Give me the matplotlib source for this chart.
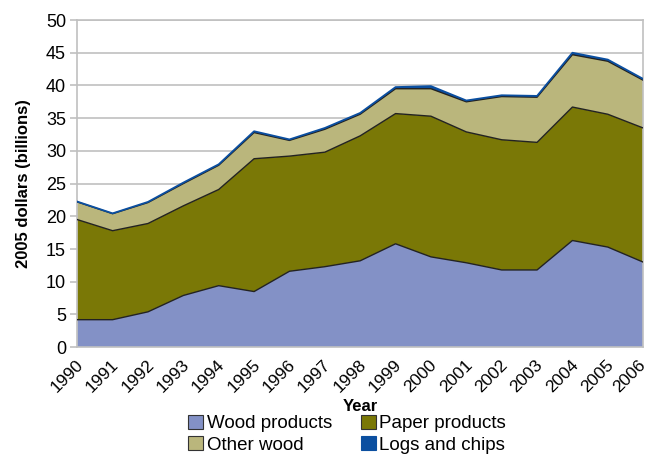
import matplotlib
matplotlib.use('Agg')
from matplotlib import pyplot as plt
from matplotlib.ticker import FixedLocator
from matplotlib.patches import Patch
from matplotlib.transforms import ScaledTranslation

years = list(range(1990, 2007))
wood = [4.2, 4.2, 5.4, 7.9, 9.4, 8.5, 11.6, 12.3, 13.2, 15.8, 13.8, 12.9, 11.8, 11.8, 16.3, 15.3, 13.0]
paper = [15.3, 13.6, 13.5, 13.7, 14.7, 20.3, 17.6, 17.5, 19.1, 19.9, 21.5, 20.0, 19.9, 19.5, 20.4, 20.3, 20.5]
other = [2.7, 2.6, 3.2, 3.4, 3.7, 4.0, 2.4, 3.5, 3.3, 3.8, 4.2, 4.6, 6.6, 6.9, 8.0, 8.1, 7.3]
logs = [0.05, 0.05, 0.1, 0.15, 0.15, 0.2, 0.15, 0.2, 0.2, 0.25, 0.4, 0.2, 0.2, 0.2, 0.3, 0.25, 0.2]

names = ['Wood products', 'Paper products', 'Other wood', 'Logs and chips']
colors = ['#8391c6', '#7a7806', '#bab67c', '#0b4fa0']

plt.rcParams['font.family'] = ['Liberation Sans', 'DejaVu Sans']

fig = plt.figure(figsize=(6.49, 4.55), dpi=100)
ax = fig.add_axes([0.119, 0.237, 0.872, 0.719])

# stacked areas, each with a dark outline on its top edge
base = [0] * len(years)
for vals, col, name in zip([wood, paper, other, logs], colors, names):
    top = [b + v for b, v in zip(base, vals)]
    ax.fill_between(years, base, top, facecolor=col, edgecolor='none', zorder=2)
    if name == 'Logs and chips':
        ax.plot(years, top, color=col, lw=1.3, zorder=3)
    else:
        ax.plot(years, top, color='#222222', lw=1.0, zorder=3)
    base = top

ax.set_xlim(1990, 2006)
ax.set_ylim(0, 50)
ax.set_yticks(range(0, 51, 5))
ax.yaxis.grid(True, color='#c0c0c0', lw=1.2, zorder=0)
ax.set_axisbelow(True)
for s in ax.spines.values():
    s.set_color('#c0c0c0')
    s.set_linewidth(1.2)

ax.set_xticks(years)
ax.set_xticklabels([str(y) for y in years], rotation=45, ha='right', va='center',
                   rotation_mode='anchor', fontsize=12.5)
ax.tick_params(axis='x', which='major', length=0, pad=11)
# nudge the rotated year labels a little to the right, as in the original
# (the last one stays put so it doesn't run off the edge)
shift = ScaledTranslation(2.5 / 72, 0, fig.dpi_scale_trans)
for lab in ax.get_xticklabels()[:-1]:
    lab.set_transform(lab.get_transform() + shift)
ax.xaxis.set_minor_locator(FixedLocator([1990, 1995, 2000, 2005]))
ax.tick_params(axis='x', which='minor', length=5, color='#c0c0c0', width=1.2)
ax.tick_params(axis='y', length=5, color='#c0c0c0', width=1.2, labelsize=13, pad=3)

ax.set_xlabel('Year', fontsize=12, fontweight='bold', labelpad=3)
ax.set_ylabel('2005 dollars (billions)', fontsize=12, fontweight='bold', labelpad=11)

# legend rows: Wood/Paper on top, Other/Logs below (matplotlib fills by column)
order = [0, 2, 1, 3]
handles = [Patch(facecolor=colors[i], lw=0.8,
                 edgecolor=colors[i] if names[i] == 'Logs and chips' else '#333333')
           for i in order]
fig.legend(handles, [names[i] for i in order], ncol=2, loc='lower center',
           bbox_to_anchor=(0.535, -0.026), frameon=False, fontsize=13.5,
           handlelength=0.8, handleheight=0.8, handletextpad=0.2,
           columnspacing=1.5, labelspacing=0.2, borderpad=0.2)

fig.savefig('out.png', dpi=100)
